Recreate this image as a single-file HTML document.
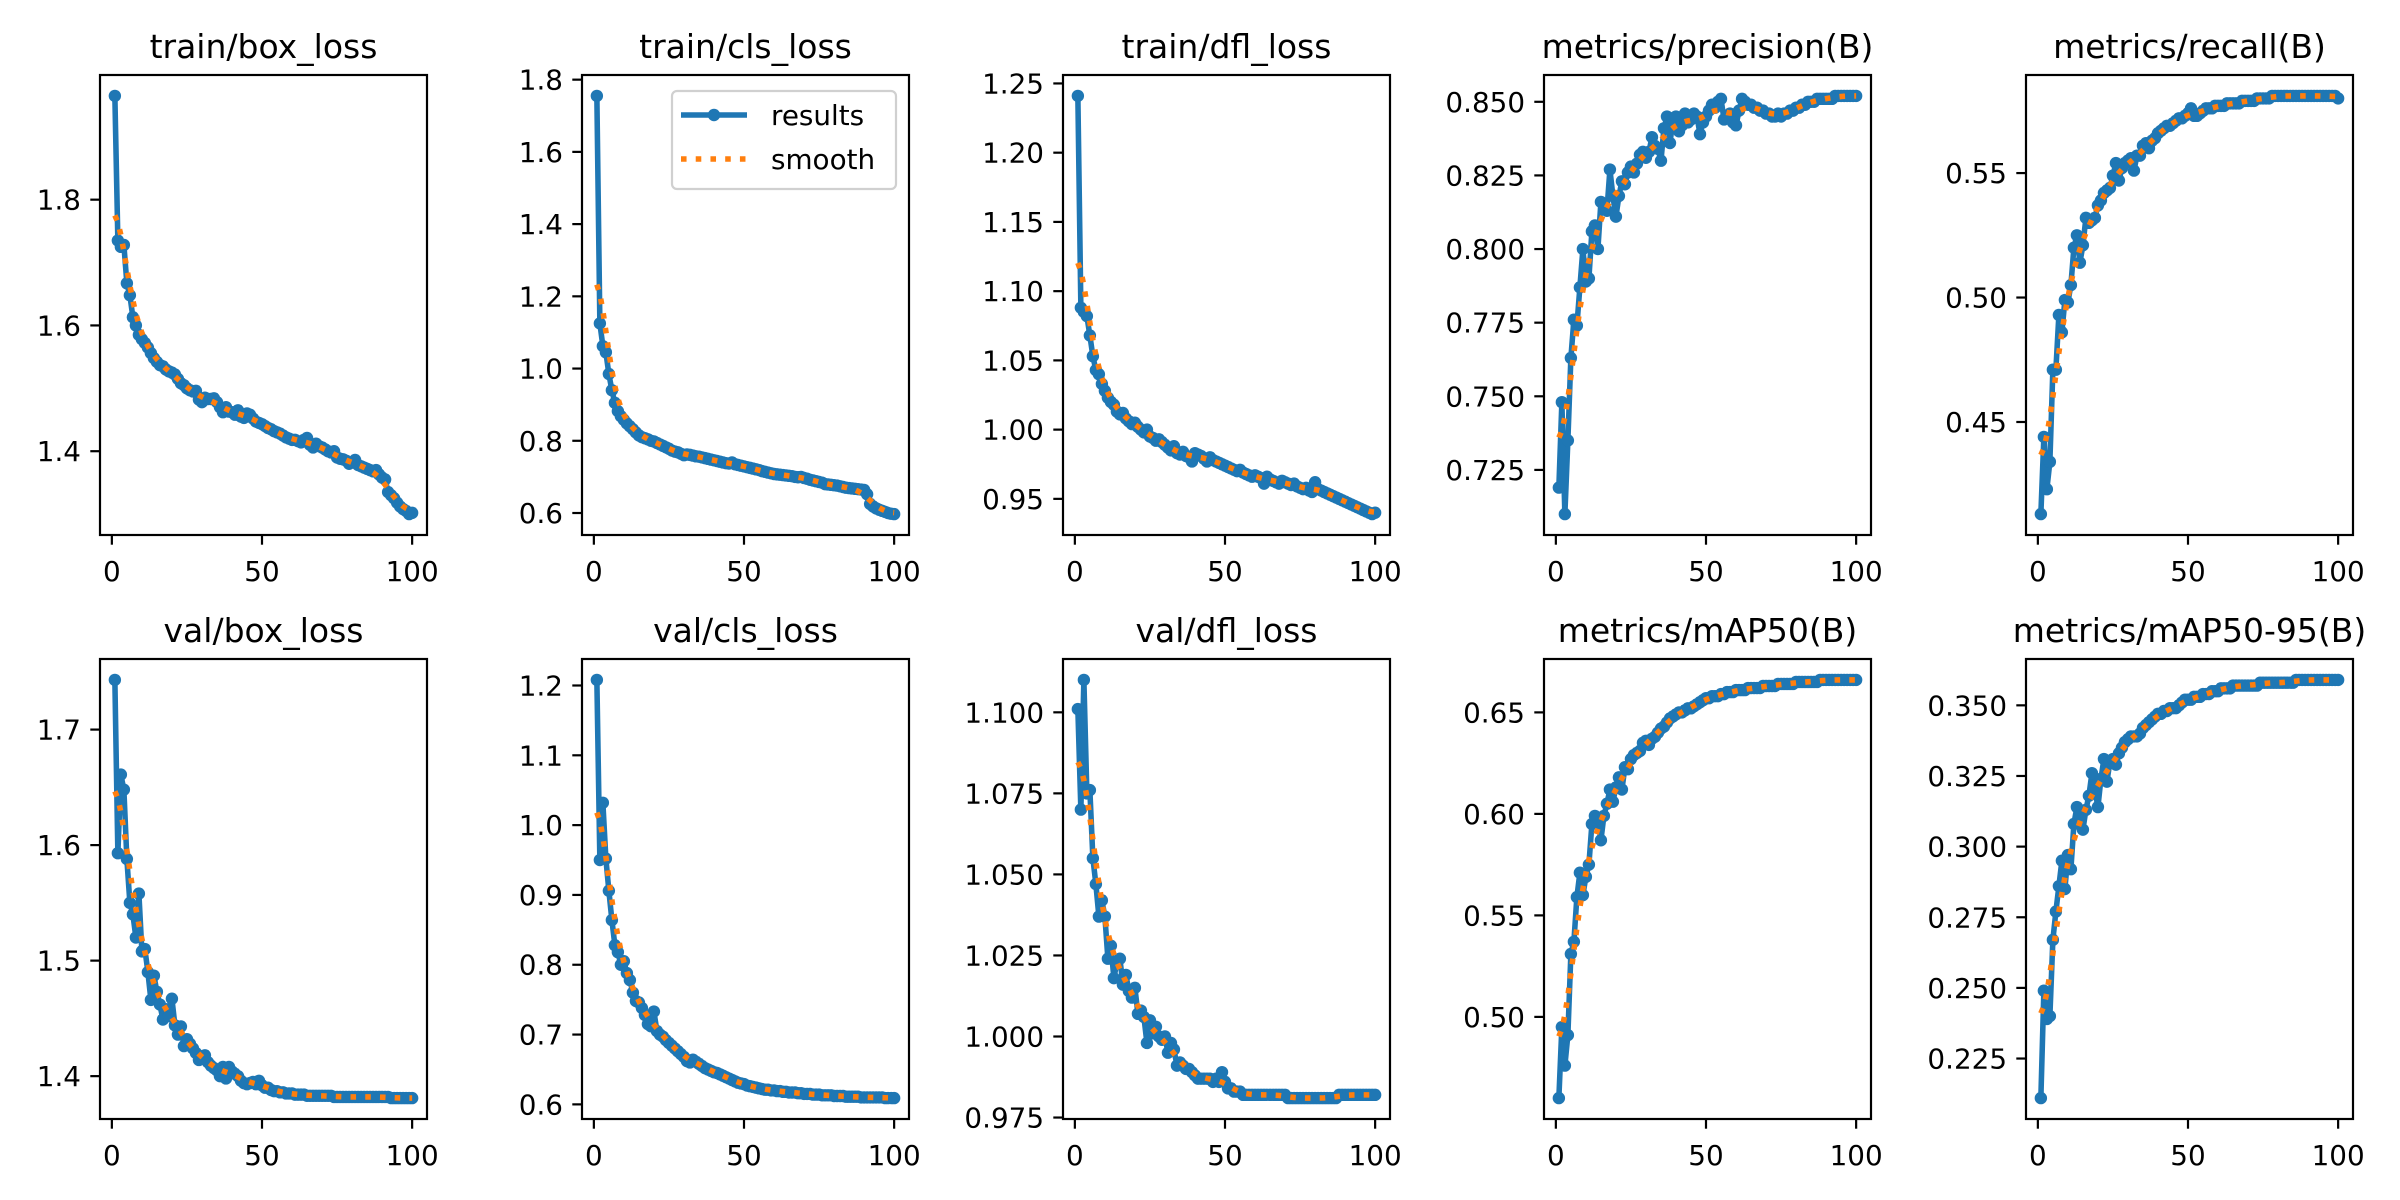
<!DOCTYPE html>
<html><head><meta charset="utf-8"><style>
html,body{margin:0;padding:0;background:#fff;}
svg{display:block;font-family:"DejaVu Sans","Liberation Sans",sans-serif;}
</style></head><body>
<svg id="fig" xmlns="http://www.w3.org/2000/svg" width="2400" height="1200" viewBox="0 0 2400 1200">
<rect x="0" y="0" width="2400" height="1200" fill="#fff"/>
</svg>
<script>
const epochs = Array.from({length:100},(_, i)=>i+1);
const titles = ["train/box_loss","train/cls_loss","train/dfl_loss","metrics/precision(B)","metrics/recall(B)","val/box_loss","val/cls_loss","val/dfl_loss","metrics/mAP50(B)","metrics/mAP50-95(B)"];
const trainBox = [1.965,1.735,1.725,1.728,1.667,1.648,1.613,1.600,1.585,1.578,
1.572,1.565,1.556,1.548,1.542,1.537,1.535,1.530,1.527,1.525,
1.522,1.515,1.508,1.505,1.500,1.497,1.495,1.496,1.482,1.478,
1.485,1.483,1.483,1.484,1.478,1.470,1.462,1.470,1.463,1.462,
1.458,1.465,1.455,1.453,1.460,1.458,1.452,1.447,1.445,1.443,
1.440,1.437,1.435,1.432,1.430,1.428,1.425,1.422,1.420,1.418,
1.418,1.416,1.414,1.418,1.421,1.410,1.406,1.412,1.408,1.406,
1.403,1.400,1.398,1.400,1.390,1.388,1.387,1.385,1.380,1.382,
1.386,1.378,1.376,1.374,1.372,1.370,1.368,1.370,1.363,1.358,
1.355,1.335,1.330,1.325,1.318,1.312,1.308,1.305,1.300,1.302];
const trainCls = [1.755,1.125,1.062,1.045,0.985,0.940,0.905,0.882,0.868,0.858,
0.848,0.840,0.832,0.823,0.815,0.810,0.807,0.804,0.800,0.798,
0.794,0.790,0.786,0.782,0.778,0.773,0.770,0.768,0.764,0.760,
0.762,0.761,0.759,0.757,0.756,0.754,0.752,0.750,0.748,0.746,
0.744,0.742,0.740,0.738,0.737,0.740,0.735,0.733,0.731,0.729,
0.727,0.725,0.723,0.721,0.719,0.716,0.714,0.712,0.710,0.708,
0.707,0.706,0.705,0.704,0.703,0.702,0.700,0.699,0.700,0.697,
0.695,0.692,0.690,0.688,0.686,0.684,0.680,0.679,0.678,0.677,
0.676,0.674,0.672,0.670,0.669,0.668,0.667,0.666,0.665,0.664,
0.652,0.625,0.618,0.613,0.609,0.606,0.603,0.600,0.598,0.597];
const trainDfl = [1.241,1.088,1.085,1.082,1.068,1.053,1.043,1.040,1.033,1.028,
1.023,1.020,1.018,1.013,1.011,1.012,1.008,1.006,1.004,1.005,
1.002,1.000,0.998,1.000,0.995,0.994,0.992,0.993,0.991,0.989,
0.987,0.985,0.988,0.983,0.982,0.984,0.981,0.980,0.977,0.983,
0.982,0.981,0.979,0.977,0.980,0.978,0.977,0.976,0.975,0.974,
0.973,0.972,0.971,0.970,0.971,0.969,0.968,0.967,0.966,0.967,
0.966,0.965,0.961,0.966,0.964,0.963,0.962,0.961,0.963,0.962,
0.961,0.960,0.961,0.959,0.958,0.957,0.958,0.956,0.955,0.962,
0.957,0.956,0.955,0.954,0.953,0.952,0.951,0.950,0.949,0.948,
0.947,0.946,0.945,0.944,0.943,0.942,0.941,0.940,0.939,0.940];
const precision = [0.719,0.748,0.710,0.735,0.763,0.776,0.774,0.787,0.800,0.789,
0.790,0.806,0.808,0.800,0.816,0.815,0.813,0.827,0.818,0.811,
0.818,0.823,0.822,0.826,0.828,0.826,0.829,0.832,0.833,0.831,
0.833,0.838,0.835,0.834,0.830,0.841,0.845,0.836,0.844,0.845,
0.840,0.842,0.846,0.843,0.844,0.846,0.845,0.839,0.843,0.845,
0.847,0.849,0.848,0.850,0.851,0.844,0.845,0.846,0.843,0.842,
0.847,0.851,0.850,0.849,0.849,0.848,0.848,0.847,0.847,0.846,
0.846,0.845,0.845,0.846,0.845,0.846,0.846,0.847,0.847,0.848,
0.848,0.849,0.849,0.850,0.850,0.850,0.851,0.851,0.851,0.851,
0.851,0.851,0.852,0.852,0.852,0.852,0.852,0.852,0.852,0.852];
const recall = [0.413,0.444,0.423,0.434,0.471,0.471,0.493,0.486,0.499,0.498,
0.505,0.520,0.525,0.514,0.521,0.532,0.530,0.531,0.532,0.537,
0.539,0.542,0.543,0.544,0.549,0.554,0.547,0.552,0.554,0.555,
0.556,0.551,0.557,0.557,0.561,0.562,0.560,0.563,0.564,0.566,
0.567,0.568,0.569,0.569,0.570,0.571,0.572,0.572,0.573,0.574,
0.576,0.573,0.573,0.574,0.575,0.576,0.576,0.576,0.577,0.577,
0.577,0.577,0.578,0.578,0.578,0.578,0.578,0.579,0.579,0.579,
0.579,0.579,0.580,0.580,0.580,0.580,0.580,0.581,0.581,0.581,
0.581,0.581,0.581,0.581,0.581,0.581,0.581,0.581,0.581,0.581,
0.581,0.581,0.581,0.581,0.581,0.581,0.581,0.581,0.581,0.580];
const valBox = [1.743,1.593,1.661,1.648,1.588,1.550,1.540,1.520,1.558,1.508,
1.510,1.490,1.466,1.487,1.473,1.462,1.449,1.458,1.452,1.467,
1.444,1.436,1.443,1.426,1.432,1.428,1.424,1.420,1.414,1.417,
1.418,1.412,1.409,1.407,1.405,1.400,1.408,1.398,1.408,1.404,
1.402,1.400,1.396,1.394,1.393,1.394,1.395,1.393,1.396,1.392,
1.390,1.390,1.388,1.387,1.387,1.386,1.386,1.385,1.385,1.385,
1.384,1.384,1.384,1.384,1.383,1.383,1.383,1.383,1.383,1.383,
1.383,1.383,1.383,1.382,1.382,1.382,1.382,1.382,1.382,1.382,
1.382,1.382,1.382,1.382,1.382,1.382,1.382,1.382,1.382,1.382,
1.382,1.382,1.381,1.381,1.381,1.381,1.381,1.381,1.381,1.381];
const valCls = [1.208,0.950,1.032,0.952,0.906,0.864,0.828,0.818,0.800,0.805,
0.788,0.778,0.760,0.748,0.746,0.738,0.728,0.715,0.712,0.733,
0.705,0.700,0.697,0.692,0.688,0.684,0.680,0.676,0.672,0.668,
0.662,0.660,0.664,0.661,0.658,0.655,0.652,0.650,0.648,0.646,
0.645,0.643,0.641,0.639,0.637,0.635,0.633,0.631,0.630,0.629,
0.627,0.626,0.625,0.624,0.623,0.622,0.621,0.621,0.620,0.620,
0.619,0.619,0.618,0.618,0.617,0.617,0.617,0.616,0.616,0.615,
0.615,0.615,0.614,0.614,0.614,0.613,0.613,0.613,0.613,0.612,
0.612,0.612,0.612,0.611,0.611,0.611,0.611,0.611,0.610,0.610,
0.610,0.610,0.610,0.610,0.610,0.610,0.609,0.609,0.609,0.609];
const valDfl = [1.101,1.070,1.110,1.075,1.076,1.055,1.047,1.037,1.042,1.037,
1.024,1.028,1.018,1.023,1.024,1.016,1.019,1.014,1.012,1.015,
1.007,1.008,1.006,0.998,1.005,1.001,1.003,1.000,0.999,1.000,
0.995,0.998,0.996,0.991,0.992,0.991,0.990,0.990,0.989,0.988,
0.987,0.987,0.987,0.987,0.987,0.986,0.987,0.986,0.989,0.986,
0.984,0.984,0.983,0.983,0.983,0.982,0.982,0.982,0.982,0.982,
0.982,0.982,0.982,0.982,0.982,0.982,0.982,0.982,0.982,0.982,
0.981,0.981,0.981,0.981,0.981,0.981,0.981,0.981,0.981,0.981,
0.981,0.981,0.981,0.981,0.981,0.981,0.981,0.982,0.982,0.982,
0.982,0.982,0.982,0.982,0.982,0.982,0.982,0.982,0.982,0.982];
const map50 = [0.460,0.495,0.476,0.491,0.531,0.537,0.559,0.571,0.560,0.569,
0.575,0.595,0.599,0.598,0.587,0.599,0.605,0.612,0.606,0.613,
0.618,0.612,0.623,0.622,0.627,0.629,0.630,0.631,0.635,0.636,
0.634,0.637,0.638,0.640,0.642,0.643,0.645,0.647,0.648,0.649,
0.650,0.650,0.651,0.652,0.652,0.653,0.654,0.655,0.656,0.657,
0.657,0.658,0.658,0.658,0.659,0.659,0.660,0.660,0.660,0.661,
0.661,0.661,0.661,0.662,0.662,0.662,0.662,0.662,0.663,0.663,
0.663,0.663,0.663,0.664,0.664,0.664,0.664,0.664,0.664,0.665,
0.665,0.665,0.665,0.665,0.665,0.665,0.665,0.666,0.666,0.666,
0.666,0.666,0.666,0.666,0.666,0.666,0.666,0.666,0.666,0.666];
const map5095 = [0.211,0.249,0.239,0.240,0.267,0.277,0.286,0.295,0.285,0.297,
0.292,0.308,0.314,0.311,0.306,0.313,0.318,0.326,0.320,0.314,
0.324,0.331,0.323,0.330,0.331,0.329,0.333,0.335,0.337,0.338,
0.339,0.339,0.339,0.340,0.342,0.343,0.344,0.345,0.346,0.347,
0.347,0.348,0.348,0.349,0.349,0.349,0.350,0.351,0.352,0.352,
0.352,0.353,0.353,0.353,0.354,0.354,0.354,0.355,0.355,0.355,
0.356,0.356,0.356,0.356,0.357,0.357,0.357,0.357,0.357,0.357,
0.357,0.357,0.357,0.358,0.358,0.358,0.358,0.358,0.358,0.358,
0.358,0.358,0.358,0.358,0.358,0.359,0.359,0.359,0.359,0.359,
0.359,0.359,0.359,0.359,0.359,0.359,0.359,0.359,0.359,0.359];
const yTickValues = [[1.4,1.6,1.8],[0.6,0.8,1.0,1.2,1.4,1.6,1.8],[0.95,1.0,1.05,1.1,1.15,1.2,1.25],[0.725,0.75,0.775,0.8,0.825,0.85],[0.45,0.5,0.55],[1.4,1.5,1.6,1.7],[0.6,0.7,0.8,0.9,1.0,1.1,1.2],[0.975,1.0,1.025,1.05,1.075,1.1],[0.5,0.55,0.6,0.65],[0.225,0.25,0.275,0.3,0.325,0.35]];
const yTickLabels = [["1.4","1.6","1.8"],["0.6","0.8","1.0","1.2","1.4","1.6","1.8"],["0.95","1.00","1.05","1.10","1.15","1.20","1.25"],["0.725","0.750","0.775","0.800","0.825","0.850"],["0.45","0.50","0.55"],["1.4","1.5","1.6","1.7"],["0.6","0.7","0.8","0.9","1.0","1.1","1.2"],["0.975","1.000","1.025","1.050","1.075","1.100"],["0.50","0.55","0.60","0.65"],["0.225","0.250","0.275","0.300","0.325","0.350"]];
const xTickValues = [0,50,100];
const xTickLabels = ["0","50","100"];
const series = [trainBox,trainCls,trainDfl,precision,recall,valBox,valCls,valDfl,map50,map5095];

const NS = "http://www.w3.org/2000/svg";
const svg = document.getElementById('fig');
function mk(tag, attrs, parent){const e=document.createElementNS(NS,tag);for(const k in attrs)e.setAttribute(k,attrs[k]);parent.appendChild(e);return e;}
function slug(t){return t.toLowerCase().replace(/[^a-z0-9]+/g,'-').replace(/^-|-$/g,'');}
function gauss(y,sigma){
  const r=Math.round(4*sigma), w=[];let s=0;
  for(let k=-r;k<=r;k++){const v=Math.exp(-0.5*k*k/(sigma*sigma));w.push(v);s+=v;}
  const n=y.length,out=[];
  const idx=i=>{while(i<0||i>=n){if(i<0)i=-i-1;if(i>=n)i=2*n-i-1;}return i;};
  for(let i=0;i<n;i++){let a=0;for(let k=-r;k<=r;k++)a+=w[k+r]*y[idx(i+k)];out.push(a/s);}
  return out;
}
const lefts=[100,582,1063,1544,2026], tops=[75,659], W=327, H=460;
const xmin=Math.min(...epochs), xmax=Math.max(...epochs), xpad=(xmax-xmin)*0.05;
for(let p=0;p<10;p++){
  const L=lefts[p%5], T=tops[Math.floor(p/5)];
  const y=series[p], sm=gauss(y,3);
  const all=y.concat(sm);
  const ymn=Math.min(...all), ymx=Math.max(...all), yp=(ymx-ymn)*0.05;
  const y0=ymn-yp, y1=ymx+yp;
  const X=v=>L+(v-(xmin-xpad))/((xmax+xpad)-(xmin-xpad))*W;
  const Y=v=>T+H-(v-y0)/(y1-y0)*H;
  const g=mk('g',{},svg);
  
  
  const tt=mk('text',{x:L+W/2,y:T-17,'text-anchor':'middle','font-size':33,fill:'#000'},g);
  tt.textContent=titles[p];
  
  
  xTickValues.forEach((v,i)=>{
    const x=X(v);
    const tl=mk('line',{x1:x,x2:x,y1:T+H,y2:T+H+9.7,stroke:'#000','stroke-width':2.2},g);
    
    
    const tx=mk('text',{x:x,y:T+H+46,'text-anchor':'middle','font-size':27.8,fill:'#000'},g);
    tx.textContent=xTickLabels[i];
    
    
  });
  yTickValues[p].forEach((v,i)=>{
    const yy=Y(v);
    const tl=mk('line',{x1:L-9.7,x2:L,y1:yy,y2:yy,stroke:'#000','stroke-width':2.2},g);
    
    
    const tx=mk('text',{x:L-19,y:yy+10,'text-anchor':'end','font-size':27.8,fill:'#000'},g);
    tx.textContent=yTickLabels[p][i];
    
    
  });
  const clipId='c'+p;
  const cp=mk('clipPath',{id:clipId},g);
  mk('rect',{x:L,y:T,width:W,height:H},cp);
  const pts=epochs.map((e,i)=>X(e).toFixed(2)+','+Y(y[i]).toFixed(2)).join(' ');
  const pl=mk('polyline',{points:pts,fill:'none',stroke:'#1f77b4','stroke-width':5.56,'stroke-linejoin':'round','stroke-linecap':'butt','clip-path':'url(#'+clipId+')'},g);
  
  
  epochs.forEach((e,i)=>{
    const c=mk('circle',{cx:X(e),cy:Y(y[i]),r:6.2,fill:'#1f77b4'},g);
    
    
  });
  const sp=epochs.map((e,i)=>X(e).toFixed(2)+','+Y(sm[i]).toFixed(2)).join(' ');
  const sl=mk('polyline',{points:sp,fill:'none',stroke:'#ff7f0e','stroke-width':5.56,'stroke-dasharray':'5.56 9.17','stroke-linecap':'butt'},g);
  
  
  const fr=mk('rect',{x:L,y:T,width:W,height:H,fill:'none',stroke:'#000','stroke-width':2.2},g);
  
  
}
const lg=mk('g',{},svg);


mk('rect',{x:672,y:91,width:224,height:98,rx:5,fill:'#fff','fill-opacity':0.8,stroke:'#d0d0d0','stroke-width':2.2},lg);
const le1=mk('g',{},lg);


mk('line',{x1:681,x2:747,y1:115,y2:115,stroke:'#1f77b4','stroke-width':5.56},le1);
mk('circle',{cx:714,cy:115,r:6.2,fill:'#1f77b4'},le1);
const t1=mk('text',{x:771,y:125,'font-size':27.8,fill:'#000'},le1);t1.textContent='results';
const le2=mk('g',{},lg);


mk('line',{x1:681,x2:747,y1:159,y2:159,stroke:'#ff7f0e','stroke-width':5.56,'stroke-dasharray':'5.56 9.17'},le2);
const t2=mk('text',{x:771,y:169,'font-size':27.8,fill:'#000'},le2);t2.textContent='smooth';
</script>
</body></html>
